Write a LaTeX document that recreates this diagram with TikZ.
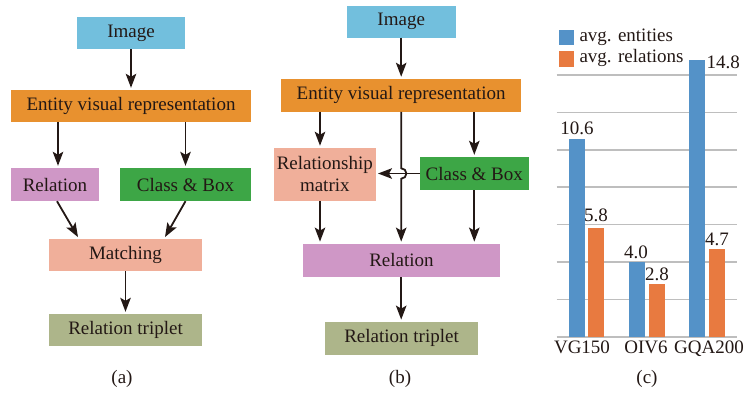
\documentclass[tikz,border=0pt]{standalone}
\usepackage{fontspec}
\setmainfont{Liberation Serif}
\usetikzlibrary{arrows.meta,calc}
\definecolor{cImg}{RGB}{114,191,221}
\definecolor{cEnt}{RGB}{232,145,47}
\definecolor{cRel}{RGB}{207,151,198}
\definecolor{cCls}{RGB}{61,166,70}
\definecolor{cMat}{RGB}{240,175,154}
\definecolor{cTri}{RGB}{173,181,138}
\definecolor{cLine}{RGB}{35,24,21}
\definecolor{cBlue}{RGB}{84,146,200}
\definecolor{cOrg}{RGB}{232,122,64}
\definecolor{cGrid}{RGB}{190,190,190}
\begin{document}
\begin{tikzpicture}[x=1pt,y=-1pt,
  box/.style={inner sep=0pt, font=\fontsize{19}{22}\selectfont, align=center, text=cLine},
  arr/.style={draw=cLine, line width=1.8pt, shorten >=2pt, -{Stealth[length=14pt,width=10.5pt,inset=3pt]}},
  lbl/.style={font=\fontsize{19}{22}\selectfont, inner sep=0pt, anchor=base, text=cLine},
  grid/.style={draw=cGrid, line width=1.6pt},
]
\useasboundingbox (0,0) rectangle (746,392);

% ---------- (a) ----------
\node[box, fill=cImg, minimum width=108pt, minimum height=32pt] (imgA) at (131,33) {Image};
\node[box, fill=cEnt, minimum width=240pt, minimum height=32pt] (entA) at (131,106) {Entity visual representation};
\node[box, fill=cRel, minimum width=88pt, minimum height=33pt] (relA) at (55,184.5) {Relation};
\node[box, fill=cCls, minimum width=131pt, minimum height=33pt] (clsA) at (185.5,184.5) {Class \& Box};
\node[box, fill=cMat, minimum width=153pt, minimum height=32pt] (matA) at (125.5,255) {Matching};
\node[box, fill=cTri, minimum width=153pt, minimum height=32pt] (triA) at (125.5,330) {Relation triplet};
\node[lbl] (labA) at (122,383.5) {(a)};

\draw[arr] (imgA.south) -- (imgA.south |- entA.north);
\draw[arr] ($(relA.north |- entA.south)+(3,0)$) -- ($(relA.north)+(3,0)$);
\draw[arr] (clsA.north |- entA.south) -- (clsA.north);
\draw[arr] ($(relA.south)+(2,0)$) -- ($(matA.north)+(-46.5,0)$);
\draw[arr] (clsA.south) -- ($(matA.north)+(38.5,0)$);
\draw[arr] (matA.south) -- (triA.north);

% ---------- (b) ----------
\node[box, fill=cImg, minimum width=109pt, minimum height=32pt] (imgB) at (401.2,21.5) {Image};
\node[box, fill=cEnt, minimum width=240pt, minimum height=32.7pt] (entB) at (401.2,95.3) {Entity visual representation};
\node[box, fill=cMat, minimum width=102pt, minimum height=52.7pt] (rmB) at (324.8,174.3) {Relationship\\matrix};
\node[box, fill=cCls, minimum width=109pt, minimum height=33pt] (clsB) at (474.3,173.5) {Class \& Box};
\node[box, fill=cRel, minimum width=197pt, minimum height=33pt] (relB) at (401.5,260.3) {Relation};
\node[box, fill=cTri, minimum width=153pt, minimum height=33pt] (triB) at (401.5,338.3) {Relation triplet};
\node[lbl] (labB) at (400,383) {(b)};
\coordinate (xb) at (320,0);

\draw[arr] (imgB.south) -- (imgB.south |- entB.north);
\draw[arr] (entB.south -| xb) -- (rmB.north -| xb);
\draw[arr] (clsB.north |- entB.south) -- (clsB.north);
\draw[arr] (clsB.west) -- (rmB.east |- clsB.west);
\draw[arr] (entB.south) -- ($(entB.south |- clsB.west)+(0,-5.2)$)
   arc[start angle=-90, end angle=90, radius=5.2] -- (relB.north -| entB.south);
\draw[arr] (rmB.south -| xb) -- (relB.north -| xb);
\draw[arr] (clsB.south) -- (relB.north -| clsB.south);
\draw[arr] (relB.south -| entB.south) -- (triB.north -| entB.south);

% ---------- (c) ----------
\foreach \k in {1,...,7} {
  \draw[grid] (556.7,{336.7-37.36*\k}) -- (736.7,{336.7-37.36*\k});
}
\draw[grid] (556.7,336.7) -- (736.7,336.7);

\fill[cBlue] (569,336.7) rectangle (585,138.7);
\fill[cOrg] (588.3,336.7) rectangle (604,228.4);
\fill[cBlue] (629.3,336.7) rectangle (645,262.0);
\fill[cOrg] (649,336.7) rectangle (664.7,284.4);
\fill[cBlue] (689,336.7) rectangle (705,60.2);
\fill[cOrg] (709,336.7) rectangle (725,248.9);

\node[lbl] (v1) at (577,134.3) {10.6};
\node[lbl] (v2) at (596,221) {5.8};
\node[lbl] (v3) at (636,258.3) {4.0};
\node[lbl] (v4) at (657,280) {2.8};
\node[lbl, anchor=base west] (v5) at (706.5,68.3) {14.8};
\node[lbl] (v6) at (717,245.7) {4.7};
\node[lbl] (c1) at (582,353.3) {VG150};
\node[lbl] (c2) at (646,353.3) {OIV6};
\node[lbl] (c3) at (709,353.3) {GQA200};
\node[lbl] (labC) at (647,383) {(c)};

\fill[cBlue] (559,30) rectangle (574.3,45.3);
\node[lbl, anchor=base west] (leg1) at (579.3,41.7) {avg. entities};
\fill[cOrg] (559,50.7) rectangle (574.3,66.7);
\node[lbl, anchor=base west] (leg2) at (579.3,62.3) {avg. relations};
\end{tikzpicture}
\end{document}
